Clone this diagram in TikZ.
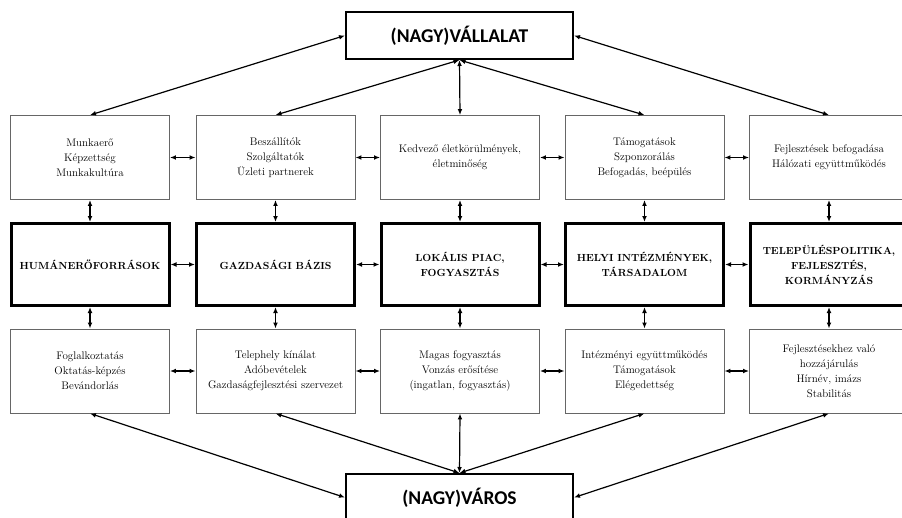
\documentclass[tikz,border=0pt]{standalone}
\usepackage{fontspec}
\newfontfamily\titlefont{Carlito}
\usetikzlibrary{arrows.meta}
\begin{document}
\begin{tikzpicture}[x=1pt,y=-1pt,
  thinbox/.style={draw=black!60, line width=0.9pt, minimum width=159pt, minimum height=84pt,
    align=center, font=\fontsize{11}{15}\selectfont, text=black, inner sep=0pt},
  thickbox/.style={draw=black, line width=3pt, minimum width=158pt, minimum height=82pt,
    align=center, font=\fontsize{10.3}{15}\selectfont\bfseries, text=black, inner sep=0pt},
  mainbox/.style={draw=black, line width=2pt, minimum width=227pt, minimum height=47pt,
    font=\titlefont\bfseries\fontsize{19.5}{20}\selectfont, inner sep=0pt},
  arr/.style={{Latex[length=6pt,width=4.8pt]}-{Latex[length=6pt,width=4.8pt]}, line width=1.2pt}
]
\useasboundingbox (0,0) rectangle (902,517);
\begin{scope}
\clip (0,0) rectangle (902,517);
\fill[white] (0,0) rectangle (902,517);

\node[mainbox] (top) at (459.5,35.5) {(NAGY)VÁLLALAT};
\node[mainbox] (bot) at (459.5,497.5) {(NAGY)VÁROS};

% row 1
\node[thinbox] (r1a) at (90,157.5) {Munkaerő\\Képzettség\\Munkakultúra};
\node[thinbox] (r1b) at (275.5,157.5) {Beszállítók\\Szolgáltatók\\Üzleti partnerek};
\node[thinbox] (r1c) at (460,157.5) {Kedvező életkörülmények,\\életminőség};
\node[thinbox] (r1d) at (644.5,157.5) {Támogatások\\Szponzorálás\\Befogadás, beépülés};
\node[thinbox] (r1e) at (829,157.5) {Fejlesztések befogadása\\Hálózati együttműködés};

% row 2
\node[thickbox] (r2a) at (90,264.5) {HUMÁNERŐFORRÁSOK};
\node[thickbox] (r2b) at (275.5,264.5) {GAZDASÁGI BÁZIS};
\node[thickbox] (r2c) at (460,264.5) {LOKÁLIS PIAC,\\FOGYASZTÁS};
\node[thickbox] (r2d) at (644.5,264.5) {HELYI INTÉZMÉNYEK,\\TÁRSADALOM};
\node[thickbox] (r2e) at (829,264.5) {TELEPÜLÉSPOLITIKA,\\FEJLESZTÉS,\\KORMÁNYZÁS};

% row 3
\node[thinbox] (r3a) at (90,371) {Foglalkoztatás\\Oktatás-képzés\\Bevándorlás};
\node[thinbox] (r3b) at (275.5,371) {Telephely kínálat\\Adóbevételek\\Gazdaságfejlesztési szervezet};
\node[thinbox] (r3c) at (460,371) {Magas fogyasztás\\Vonzás erősítése\\(ingatlan, fogyasztás)};
\node[thinbox] (r3d) at (644.5,371) {Intézményi együttműködés\\Támogatások\\Elégedettség};
\node[thinbox] (r3e) at (829,371) {Fejlesztésekhez való\\hozzájárulás\\Hírnév, imázs\\Stabilitás};

% top fan
\draw[arr] (top.west) -- (r1a.north);
\draw[arr] (top.south) -- (r1b.north);
\draw[arr] (top.south) -- (r1c.north);
\draw[arr] (top.south) -- (r1d.north);
\draw[arr] (top.east) -- (r1e.north);

% bottom fan
\draw[arr] (r3a.south) -- (bot.west);
\draw[arr] (r3b.south) -- (bot.north);
\draw[arr] (r3c.south) -- (bot.north);
\draw[arr] (r3d.south) -- (bot.north);
\draw[arr] (r3e.south) -- (bot.east);

% horizontal and vertical links
\foreach \r in {1,2,3}{
  \draw[arr] (r\r a.east) -- (r\r b.west);
  \draw[arr] (r\r b.east) -- (r\r c.west);
  \draw[arr] (r\r c.east) -- (r\r d.west);
  \draw[arr] (r\r d.east) -- (r\r e.west);
}
\foreach \c in {a,b,c,d,e}{
  \draw[arr] (r1\c.south) -- (r2\c.north);
  \draw[arr] (r2\c.south) -- (r3\c.north);
}
\end{scope}
\end{tikzpicture}
\end{document}
